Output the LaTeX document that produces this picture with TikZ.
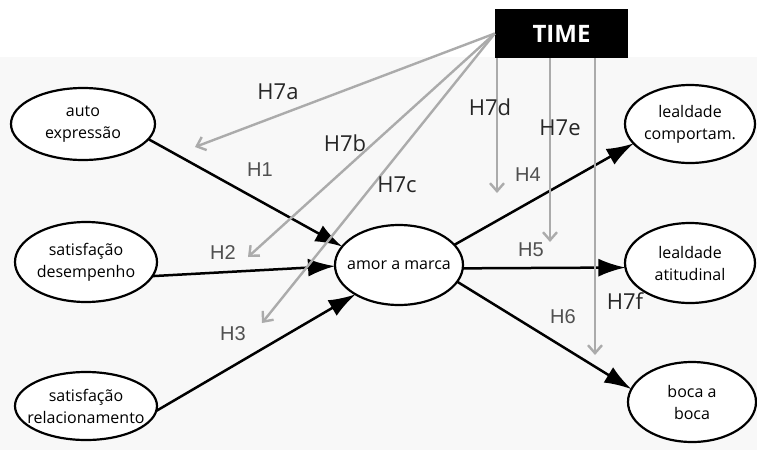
\documentclass[tikz,border=0pt]{standalone}
\usepackage{fontspec}
\setmainfont{Open Sans}
\newfontfamily\arialf{Liberation Sans}
\usetikzlibrary{arrows.meta,shapes.geometric}
\definecolor{bglow}{HTML}{F8F8F8}
\definecolor{garrow}{HTML}{ABABAB}
\definecolor{hlab}{HTML}{505050}
\tikzset{
  ell/.style={ellipse,draw=black,line width=2.2pt,fill=white,inner sep=0pt,outer sep=0pt},
  etext/.style={font=\fontsize{16}{22}\selectfont,align=center,text=black},
  blk/.style={line width=2.5pt,-{Latex[length=27pt,width=18pt]}},
  gry/.style={line width=2.4pt,garrow,-{Straight Barb[length=8pt,width=14pt,line width=2.4pt]}},
  h7lab/.style={font=\fontsize{22}{26}\selectfont,text=black!85},
  hlabel/.style={font=\arialf\fontsize{20}{24}\selectfont,text=hlab}
}
\begin{document}
\begin{tikzpicture}[x=1pt,y=-1pt]
\useasboundingbox (0,0) rectangle (757,450);
\fill[white] (0,0) rectangle (757,57);
\fill[bglow] (0,57) rectangle (757,450);

% TIME box
\node[rectangle,fill=black,minimum width=133pt,minimum height=49pt,inner sep=0pt,
      text=white,font=\bfseries\fontsize{24}{28}\selectfont] (time) at (561.5,33.5) {TIME};

% ellipses
\node[ell,minimum width=144pt,minimum height=72pt,label={[etext]center:auto\\expressão}] (ae) at (83,124) {};
\node[ell,minimum width=142pt,minimum height=80pt,label={[etext]center:satisfação\\desempenho}] (sd) at (86,262) {};
\node[ell,minimum width=142pt,minimum height=68pt,label={[etext]center:satisfação\\relacionamento}] (sr) at (86,406) {};
\node[ell,minimum width=128pt,minimum height=80pt,label={[etext]center:amor a marca}] (am) at (399,265) {};
\node[ell,minimum width=130pt,minimum height=78pt,label={[etext]center:lealdade\\comportam.}] (lc) at (690,124) {};
\node[ell,minimum width=130pt,minimum height=80pt,label={[etext]center:lealdade\\atitudinal}] (la) at (690,263) {};
\node[ell,minimum width=128pt,minimum height=80pt,label={[etext]center:boca a\\boca}] (bb) at (692,402) {};

% black arrows
\draw[blk] (ae.-13) -- (am.162);
\draw[blk] (sd.-12) -- (am.181);
\draw[blk] (sr.-4) -- (am.214);
\draw[blk] (am.20) -- (lc.199);
\draw[blk] (am.-3) -- (la.184);
\draw[blk] (am.-16) -- (bb.168);

% gray moderation arrows
\coordinate (h7a) at (195,147);
\coordinate (h7b) at (248,257);
\coordinate (h7c) at (262,323);
\coordinate (h7d) at (497,193);
\coordinate (h7e) at (550,242);
\coordinate (h7f) at (595,355);
\draw[gry] (time.west) -- (h7a);
\draw[gry] (time.west) -- (h7b);
\draw[gry] (time.west) -- (h7c);
\draw[gry] (time.south -| h7d) -- (h7d);
\draw[gry] (time.south -| h7e) -- (h7e);
\draw[gry] (time.south -| h7f) -- (h7f);

% labels
\node[h7lab] (l7a) at (278,92) {H7a};
\node[h7lab] (l7b) at (345,143) {H7b};
\node[h7lab] (l7c) at (397,185) {H7c};
\node[h7lab] (l7d) at (490,107) {H7d};
\node[h7lab] (l7e) at (560,128) {H7e};
\node[h7lab] (l7f) at (625,301) {H7f};
\node[hlabel] (l1) at (260,170) {H1};
\node[hlabel] (l2) at (223,253) {H2};
\node[hlabel] (l3) at (233,334) {H3};
\node[hlabel] (l4) at (528,175) {H4};
\node[hlabel] (l5) at (531,250) {H5};
\node[hlabel] (l6) at (563,317) {H6};
\end{tikzpicture}
\end{document}
